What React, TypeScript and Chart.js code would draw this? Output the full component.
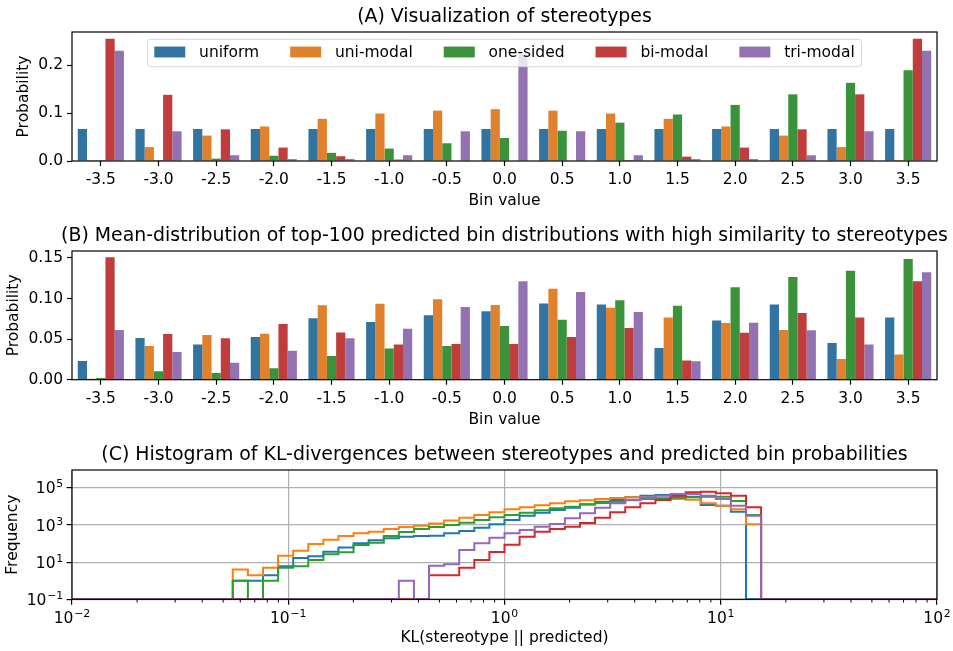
import React, { useEffect, useRef } from 'react';
import { Chart, registerables } from 'chart.js';

Chart.register(...registerables);

const FONT_FAMILY = "'DejaVu Sans', 'Liberation Sans', sans-serif";
const LABEL_SIZE = 15.5;
const EXP_SIZE = 10.85;
const TITLE_SIZE = 18.9;

// ---------- shared ----------
const BIN_LABELS = ['-3.5', '-3.0', '-2.5', '-2.0', '-1.5', '-1.0', '-0.5', '0.0', '0.5', '1.0', '1.5', '2.0', '2.5', '3.0', '3.5'];
const SERIES_NAMES = ['uniform', 'uni-modal', 'one-sided', 'bi-modal', 'tri-modal'];
const BAR_COLORS = ['#3274a1', '#e1812c', '#3a923a', '#c03d3e', '#9372b2'];
const LINE_COLORS = ['#1f77b4', '#ff7f0e', '#2ca02c', '#d62728', '#9467bd'];

// ---------- panel A: stereotypes ----------
const A_TITLE = '(A) Visualization of stereotypes';
const A_UNIFORM = [0.0667, 0.0667, 0.0667, 0.0667, 0.0667, 0.0667, 0.0667, 0.0667, 0.0667, 0.0667, 0.0667, 0.0667, 0.0667, 0.0667, 0.0667];
const A_UNI_MODAL = [0.002, 0.029, 0.053, 0.072, 0.088, 0.099, 0.105, 0.108, 0.105, 0.099, 0.088, 0.072, 0.053, 0.029, 0.002];
const A_ONE_SIDED = [0.002, 0.002, 0.005, 0.011, 0.017, 0.026, 0.037, 0.048, 0.063, 0.080, 0.097, 0.117, 0.139, 0.163, 0.189];
const A_BI_MODAL = [0.255, 0.138, 0.066, 0.028, 0.010, 0.003, 0, 0, 0, 0.002, 0.009, 0.028, 0.066, 0.139, 0.255];
const A_TRI_MODAL = [0.230, 0.062, 0.012, 0.004, 0.004, 0.012, 0.062, 0.222, 0.062, 0.012, 0.004, 0.004, 0.012, 0.062, 0.230];
const A_Y_TICKS = [0, 0.1, 0.2];
const A_Y_MAX = 0.269;

// ---------- panel B: mean distributions ----------
const B_TITLE = '(B) Mean-distribution of top-100 predicted bin distributions with high similarity to stereotypes';
const B_UNIFORM = [0.023, 0.0514, 0.0435, 0.0526, 0.0756, 0.0711, 0.0793, 0.0842, 0.094, 0.0928, 0.039, 0.0731, 0.0928, 0.0452, 0.0768];
const B_UNI_MODAL = [0.0012, 0.0415, 0.055, 0.0567, 0.0916, 0.0937, 0.099, 0.092, 0.112, 0.0887, 0.0768, 0.0698, 0.0612, 0.0255, 0.0312];
const B_ONE_SIDED = [0.002, 0.0103, 0.0082, 0.014, 0.0292, 0.0386, 0.0415, 0.0661, 0.074, 0.0978, 0.0912, 0.1138, 0.1265, 0.1343, 0.1487];
const B_BI_MODAL = [0.151, 0.0563, 0.051, 0.0686, 0.0583, 0.0435, 0.044, 0.044, 0.0526, 0.0637, 0.0238, 0.0579, 0.0822, 0.0768, 0.1212];
const B_TRI_MODAL = [0.0612, 0.0341, 0.021, 0.0357, 0.051, 0.0629, 0.0896, 0.1212, 0.108, 0.0834, 0.0226, 0.0703, 0.0608, 0.0435, 0.1323];
const B_Y_TICKS = [0, 0.05, 0.1, 0.15];
const B_Y_MAX = 0.1586;

// ---------- panel C: KL histograms (log bins, counts per bin starting at bin C_FIRST_BIN) ----------
const C_TITLE = '(C) Histogram of KL-divergences between stereotypes and predicted bin probabilities';
const C_LOG_BIN_WIDTH = 0.0698;
const C_FIRST_BIN = -18;
const C_BIN_RANGE = [-30, 30];
const C_UNIFORM = [1, 1, 2, 6, 17, 21, 37, 61, 104, 150, 194, 236, 258, 269, 360, 480, 727, 1100, 1880, 3220, 4680, 6500, 8700, 13000, 18000, 22500, 31400, 38600, 42000, 38600, 34100, 12100, 11100, 5300, 0];
const C_UNI_MODAL = [4, 2, 5, 22, 42, 96, 160, 260, 360, 440, 610, 800, 930, 1200, 1740, 2520, 3500, 4900, 7100, 9100, 11700, 14900, 19100, 21500, 25500, 28900, 31400, 30100, 26600, 25500, 23500, 14900, 11100, 7100, 1100];
const C_ONE_SIDED = [1, 0, 1, 5, 6, 13, 27, 34, 85, 112, 260, 420, 615, 790, 1010, 1350, 1880, 2630, 3500, 4680, 6250, 8020, 9800, 13200, 15500, 18300, 21600, 25500, 27700, 30100, 31400, 34100, 34100, 20000, 3500];
const C_BI_MODAL = [0, 0, 0, 0, 0, 0, 0, 0, 0, 0, 0, 0, 0, 2, 2, 5, 13, 35, 88, 238, 443, 615, 823, 1300, 2520, 4880, 9080, 14900, 22500, 38600, 58300, 63400, 51600, 38600, 9080];
const C_TRI_MODAL = [0, 0, 0, 0, 0, 0, 0, 0, 0, 0, 0, 1, 0, 6.5, 7.7, 45, 104, 210, 360, 545, 823, 1150, 2320, 4300, 8700, 14900, 22500, 30100, 38600, 47500, 47500, 38600, 25500, 11100, 3220];
const C_X_TICKS = [0.01, 0.1, 1, 10, 100];
const C_X_MINOR_SUBS = [2, 3, 4, 5, 6, 7, 8, 9];
const C_X_MINOR_DECADES = [0.01, 0.1, 1, 10];
const C_Y_TICKS = [0.1, 10, 1000, 100000];
const C_Y_MIN = 0.1;
const C_Y_MAX = 9.3e5;

const tickFont = { family: FONT_FAMILY, size: LABEL_SIZE };

function roundRectPath(ctx: CanvasRenderingContext2D, x: number, y: number, w: number, h: number, r: number) {
  ctx.beginPath();
  ctx.moveTo(x + r, y);
  ctx.lineTo(x + w - r, y);
  ctx.arcTo(x + w, y, x + w, y + r, r);
  ctx.lineTo(x + w, y + h - r);
  ctx.arcTo(x + w, y + h, x + w - r, y + h, r);
  ctx.lineTo(x + r, y + h);
  ctx.arcTo(x, y + h, x, y + h - r, r);
  ctx.lineTo(x, y + r);
  ctx.arcTo(x, y, x + r, y, r);
  ctx.closePath();
}

// draws a "10^e" tick label as real text: base and raised smaller exponent
function drawPowLabel(ctx: CanvasRenderingContext2D, v: number, x: number, baseline: number, align: 'center' | 'right') {
  const e = Math.round(Math.log10(v));
  const expStr = String(e).replace('-', '\u2212');
  const baseFont = `${LABEL_SIZE}px ${FONT_FAMILY}`;
  const expFont = `${EXP_SIZE}px ${FONT_FAMILY}`;
  ctx.font = baseFont;
  const wb = ctx.measureText('10').width;
  ctx.font = expFont;
  const we = ctx.measureText(expStr).width;
  const gap = 0.8;
  const total = wb + gap + we;
  const x0 = align === 'center' ? x - total / 2 : x - total;
  ctx.textAlign = 'left';
  ctx.textBaseline = 'alphabetic';
  ctx.fillStyle = '#000';
  ctx.font = baseFont;
  ctx.fillText('10', x0, baseline);
  ctx.font = expFont;
  ctx.fillText(expStr, x0 + wb + gap, baseline - 6);
}

function makeDecor(cfg: { title: string; titleY: number; legend?: boolean; logAxes?: boolean }) {
  return {
    id: 'decor',
    afterDatasetsDraw(chart: any) {
      const { ctx, chartArea } = chart;
      const { left, right, top, bottom } = chartArea;
      ctx.save();
      if (cfg.logAxes) {
        const xs = chart.scales.x;
        const ys = chart.scales.y;
        // minor ticks on log x axis
        ctx.strokeStyle = '#000';
        ctx.lineWidth = 1;
        for (const d of C_X_MINOR_DECADES) {
          for (const s of C_X_MINOR_SUBS) {
            const px = xs.getPixelForValue(d * s);
            ctx.beginPath();
            ctx.moveTo(px, bottom);
            ctx.lineTo(px, bottom + 3.2);
            ctx.stroke();
          }
        }
        // power-of-ten tick labels
        for (const v of C_X_TICKS) drawPowLabel(ctx, v, xs.getPixelForValue(v), bottom + 24, 'center');
        for (const v of C_Y_TICKS) drawPowLabel(ctx, v, left - 8.8, ys.getPixelForValue(v) + 5.5, 'right');
      }
      // frame
      ctx.strokeStyle = '#000';
      ctx.lineWidth = 1.2;
      ctx.strokeRect(left, top, right - left, bottom - top);
      // legend
      if (cfg.legend) {
        ctx.font = `${LABEL_SIZE}px ${FONT_FAMILY}`;
        const handleW = 31, handleH = 10.9, textPad = 13.8, colSpace = 31, borderPad = 6.8, boxH = 27.4;
        const items = chart.data.datasets.map((ds: any) => ({ label: ds.label, color: ds.backgroundColor, w: ctx.measureText(ds.label).width }));
        const total = items.reduce((s: number, it: any) => s + handleW + textPad + it.w, 0) + colSpace * (items.length - 1) + 2 * borderPad;
        const x0 = (left + right) / 2 - total / 2;
        const y0 = top + 7.3;
        roundRectPath(ctx, x0, y0, total, boxH, 3);
        ctx.fillStyle = 'rgba(255,255,255,0.8)';
        ctx.fill();
        ctx.strokeStyle = 'rgba(204,204,204,0.8)';
        ctx.lineWidth = 1;
        ctx.stroke();
        let x = x0 + borderPad;
        ctx.textAlign = 'left';
        ctx.textBaseline = 'middle';
        for (const it of items) {
          ctx.fillStyle = it.color;
          ctx.fillRect(x, y0 + 12.7 - handleH / 2, handleW, handleH);
          x += handleW + textPad;
          ctx.fillStyle = '#000';
          ctx.fillText(it.label, x, y0 + 13.3);
          x += it.w + colSpace;
        }
      }
      ctx.restore();
    },
    afterDraw(chart: any) {
      const { ctx, chartArea } = chart;
      ctx.save();
      ctx.font = `${TITLE_SIZE}px ${FONT_FAMILY}`;
      ctx.fillStyle = '#000';
      ctx.textAlign = 'center';
      ctx.textBaseline = 'middle';
      ctx.fillText(cfg.title, (chartArea.left + chartArea.right) / 2, cfg.titleY);
      ctx.restore();
    },
  };
}

function barConfig(p: {
  values: number[][]; yMax: number; yTicks: number[]; decimals: number; topPad: number; xHeight: number;
  xTitleBottom: number; yTitleTop: number; title: string; titleY: number; legend: boolean;
}) {
  return {
    type: 'bar',
    data: {
      labels: BIN_LABELS,
      datasets: p.values.map((v, i) => ({
        label: SERIES_NAMES[i], data: v, backgroundColor: BAR_COLORS[i], borderWidth: 0,
        categoryPercentage: 0.8, barPercentage: 1,
      })),
    },
    options: {
      responsive: false, animation: false, events: [], devicePixelRatio: 1,
      layout: { padding: { top: p.topPad, right: 16, bottom: 0, left: 0 } },
      plugins: { legend: { display: false }, title: { display: false }, tooltip: { enabled: false } },
      scales: {
        x: {
          type: 'category', offset: true,
          grid: { display: true, offset: false, drawOnChartArea: false, drawTicks: true, tickLength: 5, tickColor: '#000', tickWidth: 1.2 },
          border: { display: false },
          ticks: { font: tickFont, color: '#000', padding: 5, maxRotation: 0, autoSkip: false },
          title: { display: true, text: 'Bin value', font: tickFont, color: '#000', padding: { top: 0, bottom: p.xTitleBottom } },
          afterFit: (s: any) => { s.height = p.xHeight; },
        },
        y: {
          type: 'linear', min: 0, max: p.yMax,
          grid: { display: true, drawOnChartArea: false, drawTicks: true, tickLength: 5, tickColor: '#000', tickWidth: 1.2 },
          border: { display: false },
          ticks: { font: tickFont, color: '#000', padding: 4, includeBounds: false, callback: (v: any) => Number(v).toFixed(p.decimals) },
          afterBuildTicks: (s: any) => { s.ticks = p.yTicks.map((v) => ({ value: v })); },
          title: { display: true, text: 'Probability', font: tickFont, color: '#000', padding: { top: p.yTitleTop, bottom: 0 } },
          afterFit: (s: any) => { s.width = 72; },
        },
      },
    },
    plugins: [makeDecor({ title: p.title, titleY: p.titleY, legend: p.legend })],
  };
}

function stepPoints(counts: number[]) {
  const pts: { x: number; y: number }[] = [];
  for (let k = C_BIN_RANGE[0]; k <= C_BIN_RANGE[1]; k++) {
    const i = k - C_FIRST_BIN;
    const c = i >= 0 && i < counts.length ? counts[i] : 0;
    pts.push({ x: Math.pow(10, k * C_LOG_BIN_WIDTH), y: c > 0 ? c : C_Y_MIN });
  }
  return pts;
}

function histConfig() {
  const series = [C_UNIFORM, C_UNI_MODAL, C_ONE_SIDED, C_BI_MODAL, C_TRI_MODAL];
  return {
    type: 'line',
    data: {
      datasets: series.map((c, i) => ({
        label: SERIES_NAMES[i], data: stepPoints(c), borderColor: LINE_COLORS[i], borderWidth: 2,
        pointRadius: 0, pointHoverRadius: 0, stepped: true, fill: false, order: series.length - i,
        borderJoinStyle: 'miter',
      })),
    },
    options: {
      responsive: false, animation: false, events: [], devicePixelRatio: 1,
      layout: { padding: { top: 37, right: 16, bottom: 0, left: 0 } },
      plugins: { legend: { display: false }, title: { display: false }, tooltip: { enabled: false } },
      scales: {
        x: {
          type: 'logarithmic', min: C_X_TICKS[0], max: C_X_TICKS[C_X_TICKS.length - 1],
          afterBuildTicks: (s: any) => { s.ticks = C_X_TICKS.map((v) => ({ value: v })); },
          grid: { display: true, color: '#b0b0b0', lineWidth: 1.2, drawTicks: true, tickLength: 5.4, tickColor: '#000', tickWidth: 1.2 },
          border: { display: false },
          ticks: { display: false },
          title: { display: true, text: 'KL(stereotype || predicted)', font: tickFont, color: '#000', padding: { top: 0, bottom: 4 } },
          afterFit: (s: any) => { s.height = 51.7; },
        },
        y: {
          type: 'logarithmic', min: C_Y_MIN, max: C_Y_MAX,
          afterBuildTicks: (s: any) => { s.ticks = C_Y_TICKS.map((v) => ({ value: v })); },
          grid: { display: true, color: '#b0b0b0', lineWidth: 1.2, drawTicks: true, tickLength: 5.4, tickColor: '#000', tickWidth: 1.2 },
          border: { display: false },
          ticks: { display: false },
          title: { display: true, text: 'Frequency', font: tickFont, color: '#000', padding: { top: 3.2, bottom: 0 } },
          afterFit: (s: any) => { s.width = 72; },
        },
      },
    },
    plugins: [makeDecor({ title: C_TITLE, titleY: 22.3, logAxes: true })],
  };
}

export default function App() {
  const refA = useRef<HTMLCanvasElement | null>(null);
  const refB = useRef<HTMLCanvasElement | null>(null);
  const refC = useRef<HTMLCanvasElement | null>(null);

  useEffect(() => {
    const charts: Chart[] = [];
    if (refA.current) {
      charts.push(new Chart(refA.current, barConfig({
        values: [A_UNIFORM, A_UNI_MODAL, A_ONE_SIDED, A_BI_MODAL, A_TRI_MODAL],
        yMax: A_Y_MAX, yTicks: A_Y_TICKS, decimals: 1, topPad: 32, xHeight: 54, xTitleBottom: 4.4,
        yTitleTop: 14.4, title: A_TITLE, titleY: 16.7, legend: true,
      }) as any));
    }
    if (refB.current) {
      charts.push(new Chart(refB.current, barConfig({
        values: [B_UNIFORM, B_UNI_MODAL, B_ONE_SIDED, B_BI_MODAL, B_TRI_MODAL],
        yMax: B_Y_MAX, yTicks: B_Y_TICKS, decimals: 2, topPad: 36, xHeight: 53.3, xTitleBottom: 3.4,
        yTitleTop: 4.7, title: B_TITLE, titleY: 21.3, legend: false,
      }) as any));
    }
    if (refC.current) {
      charts.push(new Chart(refC.current, histConfig() as any));
    }
    return () => { charts.forEach((c) => c.destroy()); };
  }, []);

  const canvasStyle = (top: number, h: number): React.CSSProperties => ({ position: 'absolute', left: 0, top, width: 953, height: h });

  return (
    <div style={{ position: 'absolute', left: 0, top: 0, width: 953, height: 651, background: '#fff' }}>
      <canvas ref={refA} width={953} height={215} style={canvasStyle(0, 215)} />
      <canvas ref={refB} width={953} height={218} style={canvasStyle(215, 218)} />
      <canvas ref={refC} width={953} height={218} style={canvasStyle(433, 218)} />
    </div>
  );
}
